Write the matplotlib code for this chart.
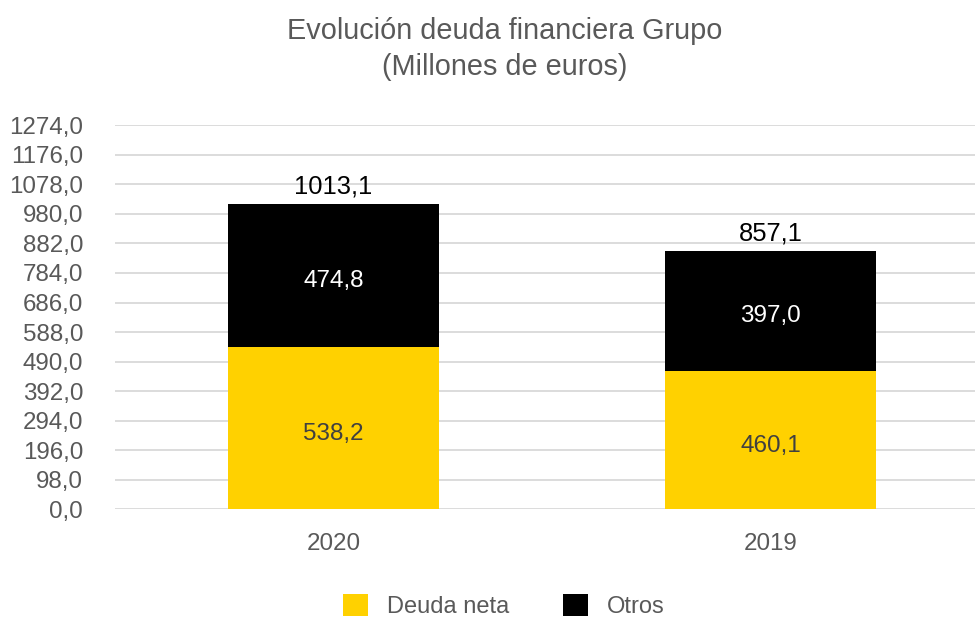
import matplotlib
matplotlib.use("Agg")
import matplotlib.pyplot as plt
from matplotlib.patches import Patch

categories = ["2020", "2019"]
deuda_neta = [538.2, 460.1]
otros = [474.8, 397.0]
totales = [1013.1, 857.1]
y_ticks = [0, 98, 196, 294, 392, 490, 588, 686, 784, 882, 980, 1078, 1176, 1274]

plt.rcParams['font.family'] = ['Liberation Sans', 'DejaVu Sans']
YELLOW = '#FFD100'
GRAY = '#595959'

fig = plt.figure(figsize=(9.75, 6.19), dpi=100)
ax = fig.add_axes([115/975, 109.7/619, (975-115)/975, 384/619])

x = list(range(len(categories)))
w = 0.483
ax.bar(x, deuda_neta, width=w, color=YELLOW, zorder=3)
ax.bar(x, otros, width=w, bottom=deuda_neta, color='black', zorder=3)

for i in x:
    ax.annotate(f"{deuda_neta[i]:.1f}".replace('.', ','), (i, deuda_neta[i]/2),
                xytext=(0, -2.2), textcoords='offset points',
                ha='center', va='center_baseline', color='#404040', fontsize=17.5, zorder=4)
    ax.annotate(f"{otros[i]:.1f}".replace('.', ','), (i, deuda_neta[i] + otros[i]/2),
                xytext=(0, -2.2), textcoords='offset points',
                ha='center', va='center_baseline', color='white', fontsize=17.5, zorder=4)
    ax.text(i, totales[i] + 18, f"{totales[i]:.1f}".replace('.', ','),
            ha='center', va='bottom', color='black', fontsize=18.4, zorder=4)

ax.set_xlim(-0.5, -0.5 + 860/437)
ax.set_ylim(0, 1274)
ax.set_yticks(y_ticks)
ax.set_yticklabels([f"{v:.1f}".replace('.', ',') for v in y_ticks])
ax.set_xticks(x)
ax.set_xticklabels(categories)
ax.tick_params(axis='both', length=0, labelsize=17.4, colors=GRAY)
ax.tick_params(axis='y', pad=23)
ax.tick_params(axis='x', pad=17)
ax.yaxis.grid(True, color='#D9D9D9', linewidth=1.3, zorder=0)
for s in ax.spines.values():
    s.set_visible(False)

fig.text(505/975, 1 - 49/619, "Evolución deuda financiera Grupo\n(Millones de euros)",
         ha='center', va='center', fontsize=20.8, color=GRAY, linespacing=1.33)

handles = [Patch(facecolor=YELLOW, label='Deuda neta'), Patch(facecolor='black', label='Otros')]
fig.legend(handles=handles, loc='center', bbox_to_anchor=(504/975, 1 - 606/619), ncol=2,
           frameon=False, fontsize=17, labelcolor=GRAY, handlelength=1.05, handleheight=1.05,
           handletextpad=0.8, columnspacing=2.28)

fig.savefig("out.png", dpi=100)
